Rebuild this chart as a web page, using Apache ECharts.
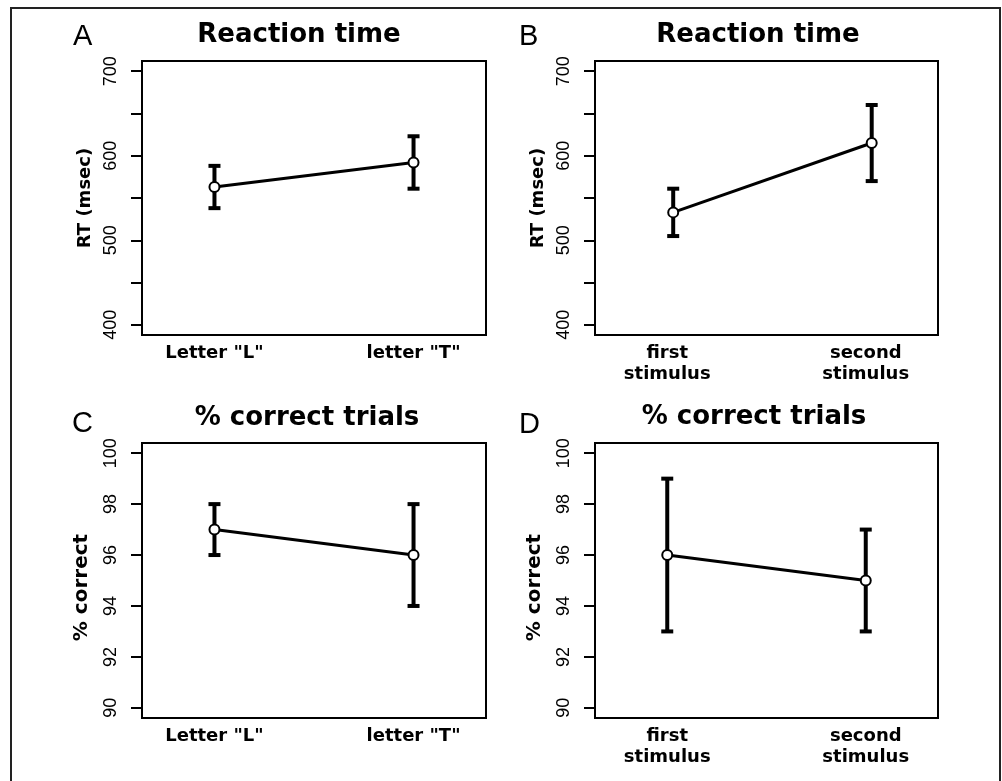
<!DOCTYPE html>
<html>
<head>
<meta charset="utf-8">
<script src="https://cdn.jsdelivr.net/npm/echarts@6.0.0/dist/echarts.min.js"></script>
<style>
	html, body { margin: 0; padding: 0; background: #fff; }
	#main { width: 1002px; height: 781px; }
</style>
</head>
<body>
<div id="main"></div>
<script>
// categories
var letterCats = ['Letter "L"', 'letter "T"'];
var stimCats = ['first\nstimulus', 'second\nstimulus'];
var catPos = [1, 2];

// A: reaction time by letter
var rtLetterX = [1, 2];
var rtLetterMean = [563, 592];
var rtLetterLow = [538, 561];
var rtLetterHigh = [588, 623];

// B: reaction time by stimulus order
var rtStimX = [1.03, 2.03];
var rtStimMean = [533, 615];
var rtStimLow = [505, 570];
var rtStimHigh = [561, 660];

// C: % correct by letter
var pcLetterX = [1, 2];
var pcLetterMean = [97, 96];
var pcLetterLow = [96, 94];
var pcLetterHigh = [98, 98];

// D: % correct by stimulus order
var pcStimX = [1, 2];
var pcStimMean = [96, 95];
var pcStimLow = [93, 93];
var pcStimHigh = [99, 97];

// ticks
var rtTicks = [400, 450, 500, 550, 600, 650, 700];
var rtTickLabels = [400, 500, 600, 700];
var pcTicks = [90, 92, 94, 96, 98, 100];
var pcTickLabels = [90, 92, 94, 96, 98, 100];

var chart = echarts.init(document.getElementById('main'));

var panels = [
	{letter: 'A', title: 'Reaction time', yName: 'RT (msec)', cats: letterCats, xs: rtLetterX, mean: rtLetterMean, low: rtLetterLow, high: rtLetterHigh, ymin: 388, ymax: 712, ticks: rtTicks, labels: rtTickLabels},
	{letter: 'B', title: 'Reaction time', yName: 'RT (msec)', cats: stimCats, xs: rtStimX, mean: rtStimMean, low: rtStimLow, high: rtStimHigh, ymin: 388, ymax: 712, ticks: rtTicks, labels: rtTickLabels},
	{letter: 'C', title: '% correct trials', yName: '% correct', cats: letterCats, xs: pcLetterX, mean: pcLetterMean, low: pcLetterLow, high: pcLetterHigh, ymin: 89.6, ymax: 100.4, ticks: pcTicks, labels: pcTickLabels},
	{letter: 'D', title: '% correct trials', yName: '% correct', cats: stimCats, xs: pcStimX, mean: pcStimMean, low: pcStimLow, high: pcStimHigh, ymin: 89.6, ymax: 100.4, ticks: pcTicks, labels: pcTickLabels}
];

// layout of each panel
var gridBoxes = [
	{left: 142, top: 61, width: 344, height: 274},
	{left: 595, top: 61, width: 343, height: 274},
	{left: 142, top: 443, width: 344, height: 275},
	{left: 595, top: 443, width: 343, height: 275}
];
var titlePos = [
	{x: 299, y: 22}, {x: 758, y: 22}, {x: 307, y: 405}, {x: 754, y: 404}
];
var letterPos = [
	{x: 73, y: 22}, {x: 519, y: 22}, {x: 72, y: 409}, {x: 519, y: 410}
];
var yNameStyle = [
	{size: 18, gap: 48, pad: [0, 0, 0, 0]},
	{size: 18, gap: 48, pad: [0, 0, 0, 0]},
	{size: 20, gap: 50, pad: [0, 14, 0, 0]},
	{size: 20, gap: 50, pad: [0, 14, 0, 0]}
];

var grids = [], xAxes = [], yAxes = [], series = [], titles = [];

panels.forEach(function (p, i) {
	grids.push(Object.assign({
		show: true,
		borderColor: '#000',
		borderWidth: 2,
		backgroundColor: 'transparent'
	}, gridBoxes[i]));

	xAxes.push({
		gridIndex: i,
		type: 'value',
		min: 0.636,
		max: 2.364,
		axisLine: {show: false},
		axisTick: {show: false},
		splitLine: {show: false},
		axisLabel: {
			customValues: catPos,
			formatter: function (v) {
				return p.cats[Math.round(v) - 1];
			},
			margin: 8,
			color: '#000',
			fontFamily: 'DejaVu Sans',
			fontWeight: 'bold',
			fontSize: 18,
			lineHeight: 21
		}
	});

	yAxes.push({
		gridIndex: i,
		type: 'value',
		min: p.ymin,
		max: p.ymax,
		name: p.yName,
		nameLocation: 'middle',
		nameRotate: 90,
		nameGap: yNameStyle[i].gap,
		nameTextStyle: {
			color: '#000',
			fontFamily: 'DejaVu Sans',
			fontWeight: 'bold',
			fontSize: yNameStyle[i].size,
			padding: yNameStyle[i].pad
		},
		axisLine: {show: false},
		splitLine: {show: false},
		axisTick: {
			show: true,
			length: 11,
			customValues: p.ticks,
			lineStyle: {color: '#000', width: 2}
		},
		axisLabel: {
			customValues: p.labels,
			rotate: 90,
			margin: 22,
			color: '#000',
			fontFamily: 'Liberation Sans',
			fontSize: 18
		}
	});

	var barData = p.xs.map(function (x, k) {
		return [x, p.low[k], p.high[k]];
	});
	series.push({
		type: 'custom',
		xAxisIndex: i,
		yAxisIndex: i,
		z: 2,
		encode: {x: 0, y: [1, 2]},
		data: barData,
		renderItem: function (params, api) {
			var x = api.value(0);
			var lo = api.coord([x, api.value(1)]);
			var hi = api.coord([x, api.value(2)]);
			var cap = 6;
			var style = {stroke: '#000', lineWidth: 4};
			return {
				type: 'group',
				children: [
					{type: 'line', shape: {x1: lo[0], y1: lo[1], x2: hi[0], y2: hi[1]}, style: style},
					{type: 'line', shape: {x1: hi[0] - cap, y1: hi[1], x2: hi[0] + cap, y2: hi[1]}, style: style},
					{type: 'line', shape: {x1: lo[0] - cap, y1: lo[1], x2: lo[0] + cap, y2: lo[1]}, style: style}
				]
			};
		}
	});

	series.push({
		type: 'line',
		xAxisIndex: i,
		yAxisIndex: i,
		z: 5,
		data: p.xs.map(function (x, k) { return [x, p.mean[k]]; }),
		symbol: 'emptyCircle',
		symbolSize: 10,
		lineStyle: {color: '#000', width: 3},
		itemStyle: {color: '#000', borderColor: '#000', borderWidth: 3}
	});

	titles.push({
		text: p.title,
		left: titlePos[i].x,
		top: titlePos[i].y,
		textAlign: 'center',
		padding: 0,
		textStyle: {
			color: '#000',
			fontFamily: 'DejaVu Sans',
			fontWeight: 'bold',
			fontSize: 26
		}
	});
	titles.push({
		text: p.letter,
		left: letterPos[i].x,
		top: letterPos[i].y,
		padding: 0,
		textStyle: {
			color: '#000',
			fontFamily: 'Liberation Sans',
			fontWeight: 'normal',
			fontSize: 29
		}
	});
});

chart.setOption({
	animation: false,
	backgroundColor: '#fff',
	title: titles,
	grid: grids,
	xAxis: xAxes,
	yAxis: yAxes,
	series: series,
	graphic: [{
		type: 'rect',
		silent: true,
		shape: {x: 11, y: 8, width: 989, height: 800},
		style: {fill: 'none', stroke: '#222', lineWidth: 2}
	}]
});
</script>
</body>
</html>
